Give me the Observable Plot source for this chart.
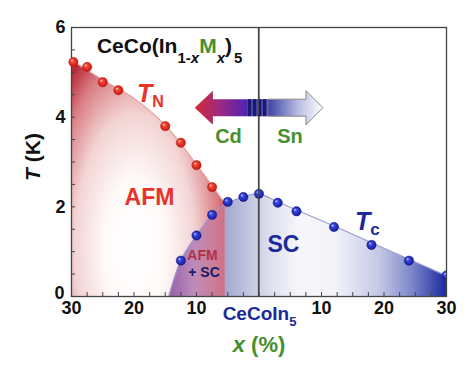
<!DOCTYPE html>
<html><head><meta charset="utf-8">
<script src="https://cdn.jsdelivr.net/npm/d3@7"></script>
<script src="https://cdn.jsdelivr.net/npm/@observablehq/plot@0.6"></script>
<style>
body{margin:0;background:#fff}
svg{font-family:"Liberation Sans",Arial,sans-serif}
</style>
</head><body><div id="chart"></div>
<script>
// x in % : Cd doping on the left (negative), Sn doping on the right (positive)
// Néel temperature T_N (red points)
const tnX = [-29.7, -27.5, -25, -22.5, -15, -12.5, -10, -7.5];
const tnT = [5.23, 5.12, 4.78, 4.60, 3.80, 3.43, 2.93, 2.44];
// Superconducting Tc (blue points)
const tcX = [-12.5, -10, -7.5, -5, -2.5, 0, 3, 6, 12, 18, 24, 30];
const tcT = [0.80, 1.36, 1.82, 2.11, 2.22, 2.29, 2.09, 1.90, 1.55, 1.15, 0.80, 0.47];
// Phase-boundary guide lines
const tnLineX = [-30, -25, -20, -15, -10, -5.4];
const tnLineT = [5.27, 4.83, 4.42, 3.82, 2.94, 2.06];
const tcLineX = [-14.4, -12.5, -10, -7.5, -5.4, -2.5, 0, 3, 6, 12, 18, 24, 30];
const tcLineT = [0, 0.80, 1.36, 1.82, 2.06, 2.22, 2.29, 2.11, 1.93, 1.57, 1.20, 0.83, 0.46];
const boundaryX = -5.4; // AFM+SC | SC border
// Axis ticks
const xLabelTicks = [-30, -20, -10, 10, 20, 30];
const xMinorTicks = [-30, -27.5, -25, -22.5, -20, -17.5, -15, -12.5, -10, -7.5, -5, -2.5, 0,
                     2.5, 5, 7.5, 10, 12.5, 15, 17.5, 20, 22.5, 25, 27.5, 30];
const yLabelTicks = [2, 4, 6];
const yZeroTick = [0];
const yMinorTicks = [0, 0.5, 1, 1.5, 2, 2.5, 3, 3.5, 4, 4.5, 5, 5.5, 6];

const RED = "#e8322a", GREEN = "#45902e", NAVY = "#1b2a9a";
const W = 474, H = 366, mL = 71, mR = 28, mT = 27, mB = 70;
const innerW = W - mL - mR, innerH = H - mT - mB;

const afmSC = tcLineX.map((x, i) => ({x, T: tcLineT[i]})).filter(d => d.x <= boundaryX);
const sc = tcLineX.map((x, i) => ({x, T: tcLineT[i]})).filter(d => d.x >= boundaryX);

const plot = Plot.plot({
  width: W, height: H,
  marginLeft: mL, marginRight: mR, marginTop: mT, marginBottom: mB,
  x: {domain: [-30, 30]},
  y: {domain: [0, 6]},
  style: {fontFamily: "Liberation Sans, Arial, sans-serif", background: "white", color: "#111"},
  marks: [
    Plot.areaY(tnLineX, {x: tnLineX, y: tnLineT, curve: "catmull-rom", fill: "url(#gAFM)"}),
    Plot.areaY(afmSC, {x: "x", y: "T", curve: "catmull-rom", fill: "url(#gAFMSC)"}),
    Plot.areaY(sc, {x: "x", y: "T", curve: "catmull-rom", fill: "url(#gSC)"}),
    Plot.ruleX([0], {stroke: "#444", strokeWidth: 1.2}),
    Plot.line(tnLineX, {x: tnLineX, y: tnLineT, curve: "catmull-rom", stroke: "#e99a9a", strokeWidth: 1.1}),
    Plot.line(tcLineX, {x: tcLineX, y: tcLineT, curve: "catmull-rom", stroke: "#9c9cd4", strokeWidth: 1.1}),
    Plot.tickX(xMinorTicks, {x: d => d, insetTop: innerH - 4, stroke: "#444", strokeWidth: 1}),
    Plot.tickY(yMinorTicks, {y: d => d, insetRight: innerW - 4, stroke: "#444", strokeWidth: 1}),
    Plot.frame({stroke: "#444", strokeWidth: 1.3}),
    Plot.dot(tnX, {x: tnX, y: tnT, r: 4.7, fill: "url(#ballR)", stroke: "#b81a14", strokeWidth: 0.4}),
    Plot.dot(tcX, {x: tcX, y: tcT, r: 4.7, fill: "url(#ballB)", stroke: "#141c88", strokeWidth: 0.4, clip: true}),
    Plot.axisX(xLabelTicks, {tickSize: 0, tickPadding: 5, tickFormat: d => Math.abs(d),
      fontSize: 18, fontWeight: "bold", fill: "#111", label: null}),
    Plot.axisY(yLabelTicks, {tickSize: 0, tickPadding: 6, fontSize: 18, fontWeight: "bold", fill: "#111", label: null}),
    Plot.axisY(yZeroTick, {tickSize: 0, tickPadding: 7, dy: -3, fontSize: 18, fontWeight: "bold", fill: "#111", label: null})
  ]
});
document.getElementById("chart").appendChild(plot);

const svg = d3.select(plot);
const xs = plot.scale("x"), ys = plot.scale("y");
const X = v => xs.apply(v), Y = v => ys.apply(v);

// ---- gradients ----
const defs = svg.insert("defs", ":first-child");
function linear(id, x1, x2, stops, y1 = 0, y2 = 0) {
  const g = defs.append("linearGradient").attr("id", id).attr("gradientUnits", "userSpaceOnUse")
    .attr("x1", x1).attr("x2", x2).attr("y1", y1).attr("y2", y2);
  stops.forEach(([o, c]) => g.append("stop").attr("offset", o).attr("stop-color", c));
}
function ball(id, stops) {
  const g = defs.append("radialGradient").attr("id", id)
    .attr("cx", 0.5).attr("cy", 0.5).attr("r", 0.55).attr("fx", 0.32).attr("fy", 0.3);
  stops.forEach(([o, c]) => g.append("stop").attr("offset", o).attr("stop-color", c));
}
{
  const cx = X(-19.8), cy = Y(1.1);
  const g = defs.append("radialGradient").attr("id", "gAFM").attr("gradientUnits", "userSpaceOnUse")
    .attr("cx", cx).attr("cy", cy).attr("r", 100)
    .attr("gradientTransform", `translate(${cx},${cy}) scale(1,2.2) translate(${-cx},${-cy})`);
  [[0, "#ffffff"], [0.3, "#fffafa"], [0.6, "#f3d4d4"], [0.85, "#d97c82"], [1, "#b92a3a"]]
    .forEach(([o, c]) => g.append("stop").attr("offset", o).attr("stop-color", c));
}
linear("gAFMSC", X(-14.4), X(boundaryX), [[0, "#9460aa"], [0.45, "#bd8cba"], [0.8, "#cc7e98"], [1, "#cf7084"]]);
linear("gSC", X(boundaryX), X(30), [[0, "#a3a8cf"], [0.2, "#dcdeee"], [0.33, "#f6f6fb"], [0.5, "#f3f3f9"],
  [0.7, "#c4c8e6"], [0.85, "#7a84c8"], [1, "#1a2aa0"]]);
ball("ballR", [[0, "#ffd6cc"], [0.3, "#f04a3a"], [0.8, "#d41e14"], [1, "#a01010"]]);
ball("ballB", [[0, "#cdd4ff"], [0.3, "#3a4ae0"], [0.8, "#1a22aa"], [1, "#0e1270"]]);
linear("gArrowL", X(-10.2), X(-1.7), [[0, "#d42a36"], [0.45, "#a02a7c"], [1, "#4e22b8"]]);
linear("gArrowR", X(1.5), X(10.3), [[0, "#3a42a4"], [0.55, "#b8bce0"], [1, "#ffffff"]]);

// ---- Cd / Sn arrow ----
const ac = Y(4.2), hh = Y(4.2) - Y(4.58), sh = Y(4.2) - Y(4.39);
const aL = [[X(-10.2), ac], [X(-7.3), ac - hh], [X(-7.3), ac - sh], [X(-1.7), ac - sh],
            [X(-1.7), ac + sh], [X(-7.3), ac + sh], [X(-7.3), ac + hh]];
svg.append("path").attr("d", "M" + aL.join("L") + "Z").attr("fill", "url(#gArrowL)");
const aR = [[X(1.5), ac - sh], [X(7.6), ac - sh], [X(7.6), ac - hh], [X(10.3), ac],
            [X(7.6), ac + hh], [X(7.6), ac + sh], [X(1.5), ac + sh]];
svg.append("path").attr("d", "M" + aR.join("L") + "Z").attr("fill", "url(#gArrowR)")
  .attr("stroke", "#8a8a8a").attr("stroke-width", 1);
{
  const s0 = X(-1.7), s1 = X(1.5), w = s1 - s0;
  svg.append("rect").attr("x", s0).attr("y", ac - sh).attr("width", w).attr("height", 2 * sh).attr("fill", "#5a4cc0");
  [0, 0.25, 0.5, 0.75].forEach(f => svg.append("rect").attr("x", s0 + f * w).attr("y", ac - sh)
    .attr("width", w * 0.17).attr("height", 2 * sh).attr("fill", "#181a6c"));
}
// re-draw the x=0 rule over the arrow
svg.append("line").attr("x1", X(0)).attr("x2", X(0)).attr("y1", Y(6)).attr("y2", Y(0))
  .attr("stroke", "#444").attr("stroke-width", 1.2);

// ---- text ----
function rich(x, y, parts, o = {}) {
  const t = svg.append("text").attr("x", x).attr("y", y)
    .attr("text-anchor", o.anchor || "start").attr("font-weight", "bold")
    .attr("font-size", o.size || 18).attr("fill", o.fill || "#111");
  if (o.rotate) t.attr("transform", `rotate(${o.rotate},${x},${y})`);
  let shift = 0;
  for (const p of parts) {
    const s = t.append("tspan").text(p.t);
    const target = p.sub || 0;
    if (target - shift) s.attr("dy", target - shift);
    shift = target;
    if (p.size) s.attr("font-size", p.size);
    if (p.italic) s.attr("font-style", "italic");
    if (p.fill) s.attr("fill", p.fill);
    if (p.dx) s.attr("dx", p.dx);
  }
  return t;
}
// title
rich(X(-25.85), Y(5.42), [
  {t: "CeCo(In"}, {t: "1-", size: 15, sub: 10}, {t: "x", size: 15, sub: 10, italic: true},
  {t: "M", fill: GREEN}, {t: "x", size: 15, sub: 10, italic: true}, {t: ")"},
  {t: "5", size: 15, sub: 10, dx: 2}
], {size: 21, fill: "#111"});
// T_N and T_c
rich(X(-19.44), Y(4.33), [{t: "T", italic: true}, {t: "N", size: 16, sub: 5}], {size: 25, fill: RED});
rich(X(15.44), Y(1.47), [{t: "T", italic: true}, {t: "c", size: 17, sub: 5}], {size: 25, fill: NAVY});
// phase labels
rich(X(-17.44), Y(2.03), [{t: "AFM"}], {size: 23, fill: RED, anchor: "middle"});
rich(X(4.0), Y(0.98), [{t: "SC"}], {size: 23, fill: NAVY, anchor: "middle"});
rich(X(-8.96), Y(0.80), [{t: "AFM"}], {size: 14, fill: "#b03244", anchor: "middle"});
rich(X(-8.72), Y(0.42), [{t: "+ SC"}], {size: 14, fill: "#1a1a6a", anchor: "middle"});
// dopants
rich(X(-4.8), Y(3.41), [{t: "Cd"}], {size: 20, fill: GREEN, anchor: "middle"});
rich(X(5.04), Y(3.41), [{t: "Sn"}], {size: 20, fill: GREEN, anchor: "middle"});
// x axis centre label and axis titles
rich(X(0) + 1, Y(0) + 24, [{t: "CeCoIn"}, {t: "5", size: 13, sub: 6}], {size: 19, fill: NAVY, anchor: "middle"});
rich(X(0) + 0.5, Y(0) + 56, [{t: "x", italic: true}, {t: " (%)"}], {size: 22, fill: GREEN, anchor: "middle"});
rich(40, 157, [{t: "T", italic: true}, {t: " (K)"}], {size: 21, fill: "#111", anchor: "middle", rotate: -90});
</script>
</body></html>
